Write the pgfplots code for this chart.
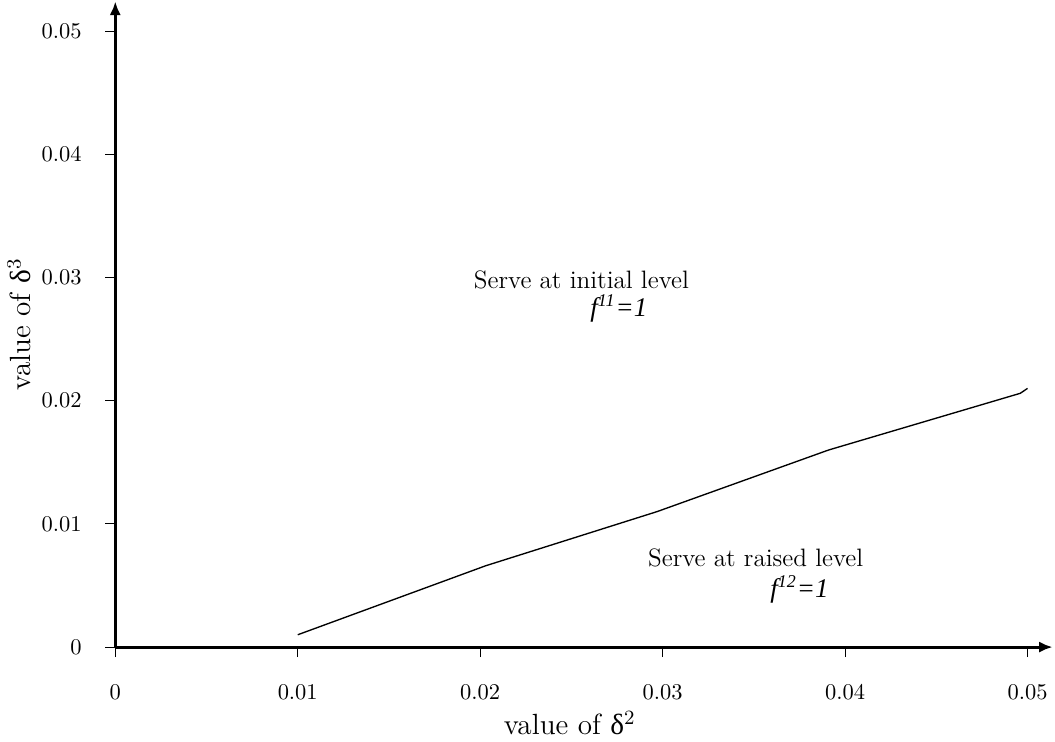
\documentclass[border=0pt]{standalone}
\usepackage{pgfplots}
\pgfplotsset{compat=1.18}
\usepackage{fontspec}
\newfontfamily\timesf{Liberation Serif}
\usetikzlibrary{arrows.meta}
\begin{document}
\begin{tikzpicture}
\begin{axis}[
  scale only axis,
  width=417pt, height=287.2pt,
  xmin=0, xmax=0.05137,
  ymin=0, ymax=0.0524,
  axis lines=left,
  axis line style={line width=1.4pt, -{Latex[length=6pt,width=5pt]}},
  xtick={0,0.01,0.02,0.03,0.04,0.05},
  ytick={0,0.01,0.02,0.03,0.04,0.05},
  scaled ticks=false,
  tick label style={/pgf/number format/fixed, /pgf/number format/precision=2},
  tick align=outside,
  major tick length=4.5pt,
  tick style={line width=0.5pt, black},
  xticklabel style={yshift=-9pt},
  yticklabel style={xshift=-7pt},
  xlabel={\fontsize{13}{15}\selectfont value of {\timesf δ}$^2$},
  ylabel={\fontsize{13}{15}\selectfont value of {\timesf δ}$^3$},
  xlabel style={at={(axis description cs:0.485,0)}, anchor=north, yshift=-25pt},
  ylabel style={yshift=-2pt},
  clip=false,
]
\addplot[black, line width=0.6pt] coordinates {
  (0.01,0.001) (0.0203,0.0066) (0.0297,0.011) (0.0391,0.016) (0.0496,0.0206) (0.05,0.021)
};
\node[font=\fontsize{11.2}{13}\selectfont, inner sep=1pt] at (axis cs:0.02555,0.0298) {Serve at initial level};
\node[font=\fontsize{12}{14}\selectfont, inner sep=1pt] at (axis cs:0.0276,0.0275) {\timesf\itshape f\textsuperscript{11}=1};
\node[font=\fontsize{11.2}{13}\selectfont, inner sep=1pt] at (axis cs:0.0351,0.0072) {Serve at raised level};
\node[font=\fontsize{12}{14}\selectfont, inner sep=1pt] at (axis cs:0.0375,0.0047) {\timesf\itshape f\textsuperscript{12}=1};
\end{axis}
\end{tikzpicture}
\end{document}
